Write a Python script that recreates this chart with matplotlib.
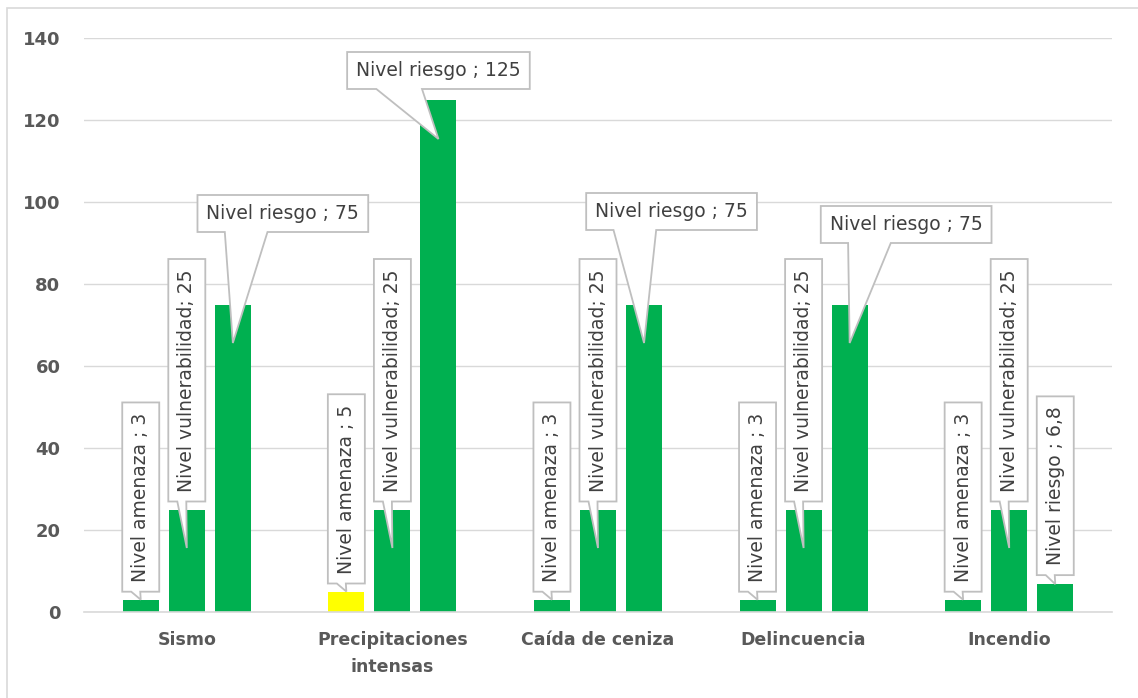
import numpy as np
import matplotlib
matplotlib.use("Agg")
from matplotlib import pyplot as plt
from matplotlib.patches import Polygon, Rectangle
from matplotlib.transforms import IdentityTransform

# ---- data ----
categories = ["Sismo", "Precipitaciones\nintensas", "Caída de ceniza", "Delincuencia", "Incendio"]
series_names = ["Nivel amenaza ", "Nivel vulnerabilidad", "Nivel riesgo "]
amenaza = [3, 5, 3, 3, 3]
vulnerabilidad = [25, 25, 25, 25, 25]
riesgo = [75, 125, 75, 75, 6.8]
y_ticks = [0, 20, 40, 60, 80, 100, 120, 140]

# ---- style ----
GREEN = "#00B050"
YELLOW = "#FFFF00"
amenaza_colors = [GREEN, YELLOW, GREEN, GREEN, GREEN]
GRID = "#d9d9d9"
BOX_EDGE = "#bfbfbf"
LABEL_TXT = "#404040"
TICK_TXT = "#595959"

W, H = 1138, 698
fig = plt.figure(figsize=(W / 100, H / 100), dpi=100)
ax = fig.add_axes([84 / W, 1 - 612 / H, 1028 / W, 574 / H])

x = np.arange(len(categories))
step = 0.224
bw = 0.175
all_series = [amenaza, vulnerabilidad, riesgo]
colors = [amenaza_colors, [GREEN] * 5, [GREEN] * 5]
for k, (vals, cols) in enumerate(zip(all_series, colors)):
    ax.bar(x + (k - 1) * step, vals, bw, color=cols, zorder=2)

ax.set_xlim(-0.5, len(categories) - 0.5)
ax.set_ylim(0, 140)
ax.set_yticks(y_ticks)
ax.set_xticks(x)
ax.set_xticklabels(categories, fontsize=12.5, fontweight="bold", color=TICK_TXT, linespacing=1.6)
ax.tick_params(axis="y", length=0, pad=17, labelsize=13, labelcolor=TICK_TXT)
ax.tick_params(axis="x", length=0, pad=14)
for t in ax.get_yticklabels():
    t.set_fontweight("bold")
ax.grid(axis="y", color=GRID, lw=1, zorder=0)
for s in ["top", "right", "left"]:
    ax.spines[s].set_visible(False)
ax.spines["bottom"].set_color(GRID)
ax.spines["bottom"].set_linewidth(1.2)

# outer chart border (only top/left visible in the reference)
fig.add_artist(Rectangle((6.5 / W, -0.05), 1.2, (H - 7.5) / H + 0.05, transform=fig.transFigure,
                         fill=False, edgecolor=GRID, lw=1.2))

# ---- callout layout (pixel offsets, image y down) ----
# vertical boxes: gap between bar top and box bottom, tip offset from bar top
# horizontal boxes: dx of box centre, dy of box bottom, tip offset
layout = {
    0: {"v": 8, "tip": 0},
    1: {"v": 8, "tip": 38.5},
}
riesgo_layout = [
    {"h": (50, -72.5), "tip": 38.5},
    {"h": (0, -10.5), "tip": 39.5},
    {"h": (27.5, -74.5), "tip": 38.5},
    {"h": (56.5, -61.5), "tip": 38.5},
    {"v": 9, "tip": 0},
]


def fmt(v):
    return f"{v:g}".replace(".", ",")


fig.canvas.draw()
renderer = fig.canvas.get_renderer()
ident = IdentityTransform()
THICK = 37

for k, vals in enumerate(all_series):
    for i, v in enumerate(vals):
        spec = layout[k] if k < 2 else riesgo_layout[i]
        bx, by = ax.transData.transform((x[i] + (k - 1) * step, v))
        label = f"{series_names[k]}; {fmt(v)}"
        vertical = "v" in spec
        txt = ax.text(0, 0, label, transform=ident, rotation=90 if vertical else 0,
                      ha="center", va="center", fontsize=13.5, color=LABEL_TXT, zorder=6,
                      rotation_mode="anchor")
        ext = txt.get_window_extent(renderer)
        tipx, tipy = bx, by - spec["tip"]
        if vertical:
            length = ext.height + 20
            x0, x1 = bx - THICK / 2, bx + THICK / 2
            y0 = by + spec["v"]
            y1 = y0 + length
            wb0, wb1 = x0 + 9, x0 + 18
        else:
            length = ext.width + 18
            cx = bx + spec["h"][0]
            x0, x1 = cx - length / 2, cx + length / 2
            y0 = by - spec["h"][1]
            y1 = y0 + THICK
            wb0, wb1 = x0 + 0.16 * length, x0 + 0.41 * length
        txt.set_position(((x0 + x1) / 2, (y0 + y1) / 2))
        poly = Polygon([(x0, y0), (wb0, y0), (tipx, tipy), (wb1, y0), (x1, y0), (x1, y1), (x0, y1)],
                       closed=True, transform=ident, facecolor="white", edgecolor=BOX_EDGE,
                       lw=1.3, zorder=5)
        ax.add_artist(poly)
        poly.set_clip_on(False)
        txt.set_clip_on(False)

fig.savefig("out.png", dpi=100, facecolor="white")
